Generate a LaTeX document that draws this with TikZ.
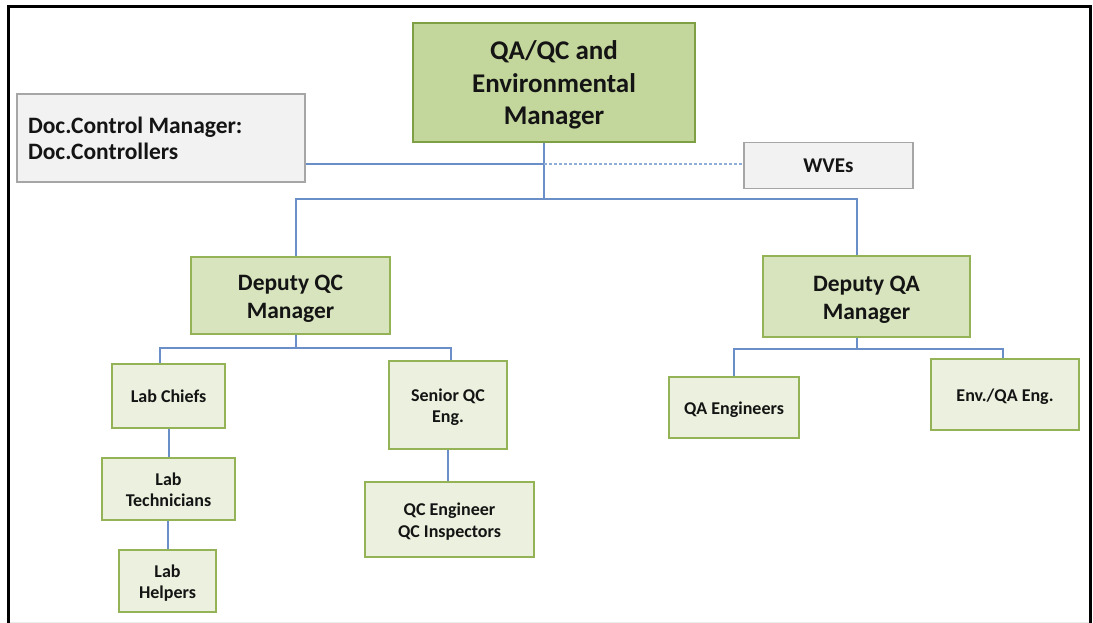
\documentclass[tikz,border=0pt]{standalone}
\usepackage{fontspec}
\setmainfont{Carlito}
\definecolor{topfill}{HTML}{C3D69B}
\definecolor{topline}{HTML}{7F9F45}
\definecolor{midfill}{HTML}{D7E4BD}
\definecolor{midline}{HTML}{93B356}
\definecolor{lowfill}{HTML}{EBF1DE}
\definecolor{lowline}{HTML}{93B356}
\definecolor{greyfill}{HTML}{F2F2F2}
\definecolor{greyline}{HTML}{A6A6A6}
\definecolor{linkblue}{HTML}{6A8FC8}
\definecolor{dashblue}{HTML}{8EADD9}
\definecolor{inktext}{HTML}{141414}
% invisible struts that fix the top of the first line and the foot of the last
\newcommand\lineroof[1][1.01]{\rule{0pt}{#1em}}
\newcommand\linefloor{\rule[-0.25em]{0pt}{0.25em}}
\tikzset{
  box/.style={draw, inner sep=0pt, align=flush center, text=inktext, font=\bfseries},
  chief/.style={box, fill=topfill, draw=topline, line width=2.2pt,
    font=\bfseries\fontsize{27}{32.5}\selectfont},
  deputy/.style={box, fill=midfill, draw=midline, line width=1.6pt,
    font=\bfseries\fontsize{23.5}{28.5}\selectfont},
  staff/.style={box, fill=lowfill, draw=lowline, line width=1.6pt,
    font=\bfseries\fontsize{18}{21.5}\selectfont},
  aside/.style={box, fill=greyfill, draw=greyline, line width=1.4pt},
  link/.style={draw=linkblue, line width=1.1pt},
  dotlink/.style={draw=dashblue, line width=1.1pt, dash pattern=on 3pt off 2pt},
}
\begin{document}
\begin{tikzpicture}[x=1pt,y=-1pt]
\useasboundingbox (0,0) rectangle (1093,623);
% outer frame, open at the bottom
\draw[gray!15, line width=0.8pt] (10,622) -- (1090,622);
\draw[black, line width=3pt] (8.5,623) -- (8.5,6.5) -- (1090.5,6.5) -- (1090.5,623);

% boxes
\node[chief, minimum width=282pt, minimum height=119pt] (top) at (554,82.5)
  {\lineroof[0.96]QA/QC and\\Environmental\\Manager\linefloor};
\node[aside, text width=266pt, minimum width=288pt, minimum height=88pt, align=flush left,
  font=\bfseries\fontsize{23.5}{26}\selectfont] (doc) at (161,138)
  {\lineroof Doc.Control Manager:\\Doc.Controllers\linefloor};
\node[aside, minimum width=169pt, minimum height=46pt,
  font=\bfseries\fontsize{21}{23}\selectfont] (wve) at (828.5,165.5)
  {\lineroof[0.89]WVEs\linefloor};
\node[deputy, minimum width=199pt, minimum height=77pt] (dqc) at (290.5,295.5)
  {\lineroof Deputy QC\\Manager\linefloor};
\node[deputy, minimum width=207pt, minimum height=81pt] (dqa) at (866.5,296.5)
  {\lineroof Deputy QA\\Manager\linefloor};
\node[staff, minimum width=113pt, minimum height=64pt] (labchief) at (168.5,396)
  {\lineroof Lab Chiefs\linefloor};
\node[staff, minimum width=118pt, minimum height=88pt] (senior) at (448,405)
  {\lineroof Senior QC\\Eng.\linefloor};
\node[staff, minimum width=133pt, minimum height=62pt] (labtech) at (168.5,489)
  {\lineroof Lab\\Technicians\linefloor};
\node[staff, minimum width=169pt, minimum height=75pt] (qceng) at (449.5,519.5)
  {\lineroof QC Engineer\\QC Inspectors\linefloor};
\node[staff, minimum width=97pt, minimum height=62pt] (labhelp) at (167.5,581)
  {\lineroof Lab\\Helpers\linefloor};
\node[staff, minimum width=130pt, minimum height=61pt] (qaeng) at (734,407.5)
  {\lineroof QA Engineers\linefloor};
\node[staff, minimum width=148pt, minimum height=71pt] (enveng) at (1005,394.5)
  {\lineroof Env./QA Eng.\linefloor};

% junction points of the connector lines
\coordinate (side) at (544,164);
\coordinate (bus) at (544,199);
\coordinate (qcbus) at (296,348);
\coordinate (qabus) at (857,349);

% manager to deputies, side links to document control and WVEs
\draw[link] (top.south -| bus) -- (bus);
\draw[link] (doc.east |- side) -- (side);
\draw[dotlink] (side) -- (wve.west |- side);
\draw[link] (bus) -| (dqc.north -| qcbus);
\draw[link] (bus) -| (dqa.north -| qabus);

% QC branch
\draw[link] (dqc.south -| qcbus) -- (qcbus);
\draw[link] (qcbus) -| ([xshift=-8.5pt]labchief.north);
\draw[link] (qcbus) -| ([xshift=3pt]senior.north);
\draw[link] ([xshift=0.5pt]labchief.south) -- ([xshift=0.5pt]labtech.north);
\draw[link] ([xshift=-0.5pt]labtech.south) -- ([xshift=0.5pt]labhelp.north);
\draw[link] (senior.south) -- (senior.south |- qceng.north);

% QA branch
\draw[link] (dqa.south -| qabus) -- (qabus);
\draw[link] (qabus) -| (qaeng.north);
\draw[link] (qabus) -| ([xshift=-2pt]enveng.north);
\end{tikzpicture}
\end{document}
